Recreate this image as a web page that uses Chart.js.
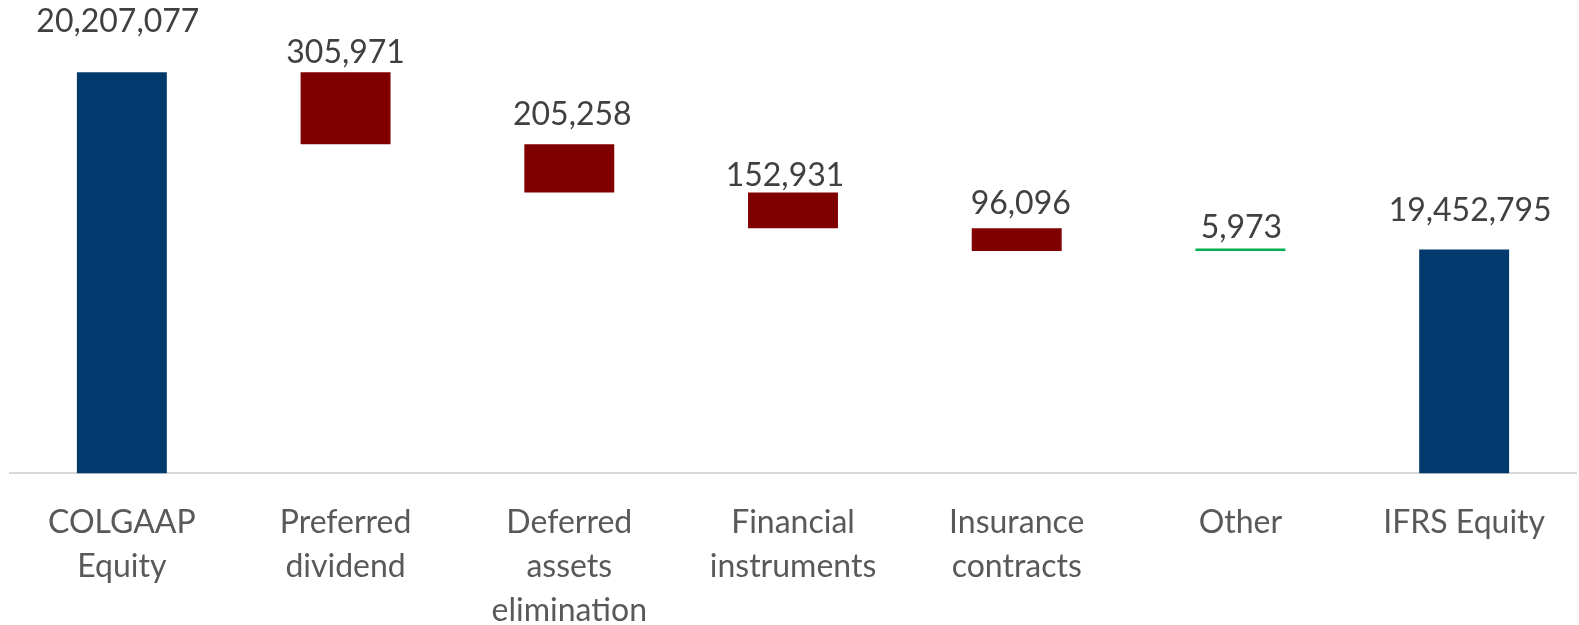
<!DOCTYPE html>
<html>
<head>
<meta charset="utf-8">
<title>COLGAAP to IFRS equity reconciliation</title>
<script src="https://cdn.jsdelivr.net/npm/chart.js@4.4.1/dist/chart.umd.min.js"></script>
<style>
  html, body { margin: 0; padding: 0; background: #ffffff; }
  #wrap { width: 1579px; height: 625px; }
</style>
</head>
<body>
<div id="wrap"><canvas id="chart" width="1579" height="625"></canvas></div>
<script>
// Reconciliation steps from COLGAAP equity to IFRS equity
const categories = [
  ['COLGAAP', 'Equity'],
  ['Preferred', 'dividend'],
  ['Deferred', 'assets', 'elimination'],
  ['Financial', 'instruments'],
  ['Insurance', 'contracts'],
  'Other',
  'IFRS Equity'
];
const openingEquity = 20207077;
const adjustments = [-305971, -205258, -152931, -96096, 5973];
const closingEquity = 19452795;
const axisMin = 18500000;
const axisMax = 20500000;

const COLOR_TOTAL = '#023A6D';
const COLOR_DOWN = '#800000';
const COLOR_UP = '#00B050';

// Build floating [low, high] ranges for the waterfall
const ranges = [];
const colors = [];
const labels = [];
ranges.push([axisMin, openingEquity]);
colors.push(COLOR_TOTAL);
labels.push(openingEquity);
let running = openingEquity;
adjustments.forEach(a => {
  const next = running + a;
  ranges.push([Math.min(running, next), Math.max(running, next)]);
  colors.push(a < 0 ? COLOR_DOWN : COLOR_UP);
  labels.push(Math.abs(a));
  running = next;
});
ranges.push([axisMin, closingEquity]);
colors.push(COLOR_TOTAL);
labels.push(closingEquity);

const fmt = n => n.toLocaleString('en-US');
const FONT = 'Lato, "Open Sans", "DejaVu Sans", sans-serif';

// Value labels drawn above each bar
const valueLabels = {
  id: 'valueLabels',
  afterDatasetsDraw(chart, args, opts) {
    const ctx = chart.ctx;
    const meta = chart.getDatasetMeta(0);
    ctx.save();
    ctx.font = opts.size + 'px ' + FONT;
    ctx.fillStyle = opts.color;
    ctx.textAlign = 'center';
    ctx.textBaseline = 'middle';
    meta.data.forEach((bar, i) => {
      const top = Math.min(bar.y, bar.base);
      ctx.fillText(fmt(labels[i]), bar.x + (opts.dx[i] || 0), top - opts.gap[i]);
    });
    ctx.restore();
  }
};

new Chart(document.getElementById('chart'), {
  type: 'bar',
  data: {
    labels: categories,
    datasets: [{
      data: ranges,
      backgroundColor: colors,
      borderWidth: 0,
      barPercentage: 0.402,
      categoryPercentage: 1.0,
      minBarLength: 2.5
    }]
  },
  options: {
    responsive: false,
    animation: false,
    devicePixelRatio: 1,
    layout: { padding: { left: 10, right: 3, top: 3.4, bottom: 0 } },
    plugins: {
      legend: { display: false },
      tooltip: { enabled: false },
      valueLabels: {
        size: 32,
        color: '#404040',
        gap: [51, 19.5, 29, 17, 25, 20.5, 39],
        dx: [-4, 0, 3, -8, 4, 1, 6]
      }
    },
    scales: {
      x: {
        grid: { display: false, drawTicks: false },
        border: { display: true, color: '#D9D9D9', width: 2 },
        ticks: {
          color: '#595959',
          font: { family: FONT, size: 32, lineHeight: 1.37 },
          padding: 27.5,
          maxRotation: 0,
          autoSkip: false
        },
        afterFit(scale) { scale.height = 151.6; }
      },
      y: {
        display: false,
        min: axisMin,
        max: axisMax
      }
    }
  },
  plugins: [valueLabels]
});
</script>
</body>
</html>
